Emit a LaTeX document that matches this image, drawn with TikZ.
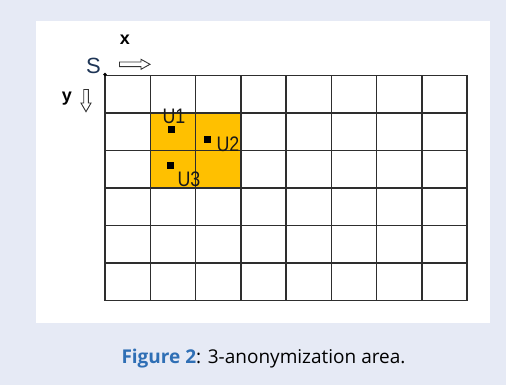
\documentclass[tikz,border=0pt]{standalone}
\usepackage{fontspec}
\setmainfont{Open Sans}
\newfontfamily\gridfont{Liberation Sans}
\definecolor{bgblue}{HTML}{E6EAF5}
\definecolor{capblue}{HTML}{2F6FB5}
\definecolor{cellgold}{HTML}{FFC000}
\definecolor{gridgray}{HTML}{2E2E2E}
\definecolor{snavy}{HTML}{1E3556}
\tikzset{
  gridline/.style={draw=gridgray, line width=1.5pt},
  marker/.style={fill=black, minimum size=6.5pt, inner sep=0pt, outer sep=0pt},
  ulabel/.style={font=\gridfont\fontsize{21}{21}\selectfont, inner sep=0pt, text=black!90},
  hollowarrow/.style={draw=black!80, line width=0.9pt, fill=white, line join=miter},
}
\newcommand{\ulbl}[1]{\scalebox{0.85}[1]{#1}}
\begin{document}
\begin{tikzpicture}[x=1pt,y=-1pt]
\useasboundingbox (0,0) rectangle (506,385);
\fill[bgblue] (0,0) rectangle (506,385);
\fill[white] (36,21) rectangle (490,323.3);
% highlighted area
\fill[cellgold] (150.25,113.8) rectangle (240.75,189.2);
% grid
\foreach \i in {0,...,8} {
  \draw[gridline] ({105+45.25*\i},75.5) -- ({105+45.25*\i},300.5);
}
\foreach \j in {0,...,6} {
  \draw[gridline] (105,{75.5+37.5*\j}) -- (467,{75.5+37.5*\j});
}
\fill[black] (105,74.5) circle (1.9pt);
% axis labels
\node[font=\gridfont\fontsize{22}{22}\selectfont, text=snavy, inner sep=0pt] (S) at (93.5,66) {S};
\node[font=\gridfont\bfseries\fontsize{18}{18}\selectfont, inner sep=0pt] (xl) at (125,40) {x};
\node[font=\gridfont\bfseries\fontsize{18}{18}\selectfont, inner sep=0pt] (yl) at (67,98.5) {y};
% hollow arrows
\draw[hollowarrow] (119.5,62) -- (141,62) -- (141,59.3) -- (150,64.3) -- (141,69.3) -- (141,66.6) -- (119.5,66.6) -- cycle;
\draw[hollowarrow] (83.7,89.5) -- (83.7,103) -- (81,103) -- (86,111.7) -- (91,103) -- (88.3,103) -- (88.3,89.5) -- cycle;
% users
\node[marker] (m1) at (171.7,129.3) {};
\node[marker] (m2) at (207.3,139.3) {};
\node[marker] (m3) at (170.7,165.3) {};
\node[ulabel] (u1) at (174,116) {\ulbl{U1}};
\node[ulabel] (u2) at (228,144.5) {\ulbl{U2}};
\node[ulabel] (u3) at (189,179.5) {\ulbl{U3}};
% caption
\node[font=\fontsize{19}{22}\selectfont, inner sep=0pt] (cap) at (263.5,359) {\textbf{\color{capblue}Figure 2}: 3-anonymization area.};
\end{tikzpicture}
\end{document}
